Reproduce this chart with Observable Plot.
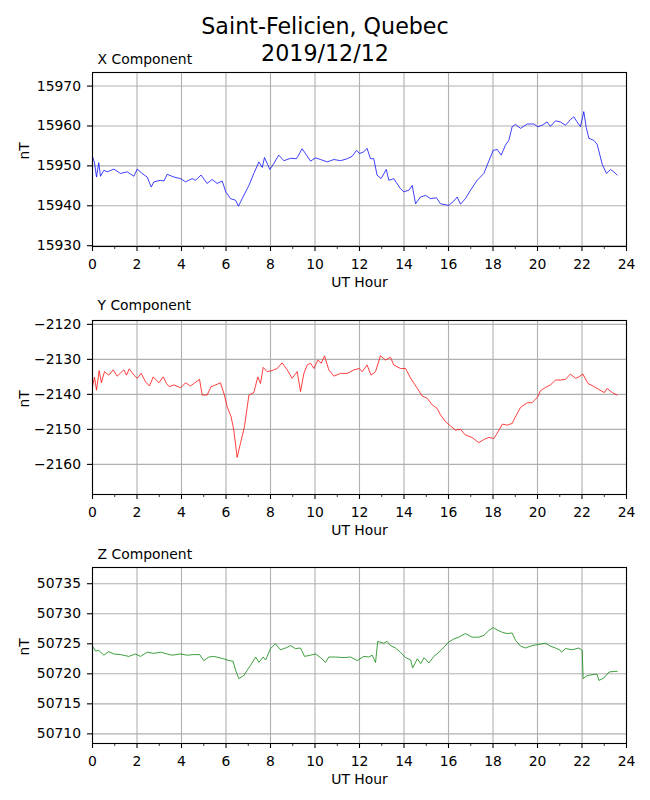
<!DOCTYPE html>
<html><head><meta charset="utf-8">
<script src="https://cdn.jsdelivr.net/npm/d3@7"></script>
<script src="https://cdn.jsdelivr.net/npm/@observablehq/plot@0.6"></script>
<style>
body{margin:0;background:#fff;}
#root{position:relative;width:650px;height:800px;font-family:"DejaVu Sans",sans-serif;color:#000;}
.t{position:absolute;left:0;width:650px;text-align:center;font-size:22.2px;line-height:26px;}
.p{position:absolute;left:0;}
</style></head><body><div id="root">
<div class="t" style="top:13px">Saint-Felicien, Quebec</div>
<div class="t" style="top:40px">2019/12/12</div>
</div>
<script>
// [UT hour, nT] readings
const xReadings = [[0,15952.3],[0.09,15950.8],[0.18,15947.2],[0.28,15950.8],[0.36,15947.4],[0.51,15948.9],[0.66,15948.5],[0.96,15949.2],[1.26,15948.1],[1.56,15948.5],[1.86,15947.4],[2.01,15949.2],[2.23,15948.1],[2.46,15947.2],[2.64,15944.7],[2.76,15946.0],[3.06,15946.4],[3.21,15946.2],[3.36,15947.9],[3.66,15947.2],[3.96,15946.8],[4.18,15946.0],[4.48,15946.8],[4.63,15946.4],[4.88,15947.7],[5.15,15945.6],[5.38,15946.6],[5.60,15945.6],[5.83,15946.2],[5.99,15943.5],[6.20,15941.8],[6.43,15941.4],[6.56,15939.9],[6.80,15942.6],[7.03,15945.1],[7.25,15948.1],[7.48,15951.0],[7.63,15949.6],[7.73,15952.1],[7.97,15949.1],[8.15,15950.6],[8.37,15952.7],[8.60,15951.3],[8.90,15951.9],[9.17,15951.8],[9.42,15954.3],[9.57,15953.1],[9.80,15951.2],[10.02,15952.0],[10.25,15951.6],[10.55,15951.0],[10.85,15951.6],[11.15,15951.3],[11.45,15951.8],[11.67,15952.4],[11.87,15953.9],[12.0,15953.1],[12.19,15953.5],[12.34,15954.4],[12.49,15951.8],[12.64,15951.8],[12.79,15947.7],[12.97,15946.8],[13.20,15949.1],[13.32,15946.4],[13.54,15946.8],[13.84,15944.3],[13.99,15943.5],[14.22,15943.9],[14.37,15945.1],[14.52,15940.5],[14.74,15942.2],[14.97,15942.6],[15.19,15941.8],[15.46,15942.0],[15.64,15940.5],[16.01,15940.1],[16.24,15941.2],[16.39,15942.2],[16.54,15940.4],[16.76,15941.8],[16.99,15943.9],[17.29,15946.4],[17.59,15948.1],[17.74,15950.2],[18.01,15953.9],[18.19,15954.1],[18.37,15952.7],[18.56,15955.2],[18.71,15956.4],[18.86,15959.8],[19.01,15960.4],[19.24,15959.4],[19.54,15960.5],[19.84,15960.5],[20.01,15959.8],[20.21,15960.2],[20.43,15961.0],[20.58,15959.9],[20.81,15961.3],[21.03,15961.0],[21.26,15960.2],[21.48,15961.6],[21.63,15962.3],[21.78,15961.0],[21.93,15959.8],[22.08,15963.6],[22.19,15959.6],[22.31,15956.9],[22.53,15956.4],[22.68,15955.4],[22.91,15950.4],[23.10,15948.1],[23.28,15949.1],[23.43,15948.5],[23.58,15947.7]];
const yReadings = [[0,-2137.8],[0.09,-2135.1],[0.18,-2138.8],[0.30,-2133.2],[0.40,-2136.7],[0.54,-2133.5],[0.73,-2134.5],[0.93,-2133.0],[1.11,-2134.8],[1.41,-2133.0],[1.53,-2134.5],[1.65,-2132.7],[1.86,-2134.5],[2.01,-2135.4],[2.19,-2134.0],[2.38,-2136.4],[2.56,-2137.6],[2.73,-2135.0],[2.98,-2136.7],[3.18,-2135.0],[3.33,-2136.9],[3.45,-2137.8],[3.66,-2137.3],[3.96,-2138.1],[4.18,-2136.7],[4.40,-2137.6],[4.60,-2136.7],[4.81,-2135.7],[4.93,-2140.2],[5.15,-2140.2],[5.33,-2137.8],[5.53,-2137.3],[5.75,-2136.7],[5.93,-2140.2],[6.05,-2143.5],[6.23,-2146.4],[6.35,-2150.2],[6.50,-2158.0],[6.65,-2154.0],[6.83,-2149.2],[7.03,-2140.2],[7.25,-2139.5],[7.43,-2135.0],[7.55,-2136.9],[7.67,-2132.3],[7.85,-2133.5],[8.07,-2133.2],[8.30,-2132.6],[8.52,-2131.0],[8.75,-2133.0],[8.97,-2135.4],[9.20,-2133.5],[9.35,-2139.2],[9.50,-2134.0],[9.65,-2131.6],[9.80,-2131.1],[9.95,-2132.6],[10.13,-2130.2],[10.28,-2131.1],[10.43,-2129.0],[10.62,-2133.0],[10.85,-2134.8],[11.15,-2134.0],[11.45,-2134.0],[11.75,-2133.0],[11.99,-2132.6],[12.12,-2133.5],[12.34,-2131.6],[12.52,-2134.5],[12.72,-2133.5],[12.94,-2129.0],[13.17,-2130.2],[13.39,-2129.4],[13.54,-2131.6],[13.84,-2132.6],[14.07,-2132.6],[14.30,-2135.4],[14.60,-2138.3],[14.82,-2140.5],[15.04,-2141.1],[15.27,-2143.0],[15.49,-2144.0],[15.64,-2145.9],[15.87,-2147.8],[16.09,-2149.0],[16.31,-2150.2],[16.54,-2150.0],[16.76,-2151.6],[17.06,-2152.3],[17.36,-2153.8],[17.59,-2152.9],[17.81,-2152.3],[18.04,-2152.6],[18.19,-2151.1],[18.42,-2148.5],[18.64,-2148.8],[18.86,-2148.3],[19.01,-2146.4],[19.24,-2143.7],[19.54,-2142.4],[19.76,-2142.4],[20.01,-2140.7],[20.13,-2139.0],[20.36,-2138.0],[20.58,-2137.3],[20.81,-2135.9],[21.03,-2135.9],[21.26,-2135.7],[21.48,-2134.2],[21.71,-2135.4],[21.86,-2135.0],[22.04,-2134.2],[22.27,-2136.9],[22.49,-2137.6],[22.68,-2138.3],[23.0,-2139.5],[23.13,-2138.3],[23.36,-2139.5],[23.58,-2140.2]];
const zReadings = [[0,50724.6],[0.13,50723.8],[0.28,50723.9],[0.51,50723.1],[0.73,50723.7],[0.96,50723.3],[1.26,50723.2],[1.63,50722.9],[1.93,50723.3],[2.16,50722.9],[2.46,50723.6],[2.76,50723.4],[3.06,50723.6],[3.36,50723.3],[3.58,50723.1],[3.96,50723.3],[4.25,50723.1],[4.55,50723.2],[4.82,50723.2],[5.0,50722.2],[5.23,50722.8],[5.45,50722.9],[5.68,50722.7],[5.90,50722.5],[6.13,50722.2],[6.32,50722.1],[6.43,50720.6],[6.58,50719.2],[6.80,50719.7],[6.95,50720.6],[7.10,50721.4],[7.33,50722.8],[7.48,50721.9],[7.67,50722.8],[7.78,50722.3],[8.0,50724.2],[8.22,50725.0],[8.45,50724.0],[8.75,50724.4],[8.90,50724.7],[9.12,50724.2],[9.35,50724.3],[9.53,50722.9],[9.80,50723.1],[10.02,50723.3],[10.25,50722.7],[10.47,50721.9],[10.62,50722.8],[10.92,50722.8],[11.30,50722.7],[11.60,50722.8],[11.90,50722.2],[12.19,50722.9],[12.42,50722.8],[12.57,50723.1],[12.72,50721.9],[12.82,50725.4],[13.09,50725.1],[13.24,50725.4],[13.39,50724.7],[13.62,50724.3],[13.84,50723.6],[14.07,50722.7],[14.30,50722.3],[14.39,50721.0],[14.60,50722.5],[14.75,50721.7],[14.90,50722.7],[15.12,50721.8],[15.34,50722.9],[15.57,50723.6],[15.79,50724.4],[16.01,50725.3],[16.24,50725.8],[16.46,50726.1],[16.76,50726.7],[17.06,50726.1],[17.36,50726.1],[17.59,50726.4],[17.81,50727.2],[18.01,50727.7],[18.19,50727.3],[18.42,50726.9],[18.64,50726.7],[18.86,50726.8],[19.01,50725.6],[19.24,50724.6],[19.46,50724.3],[19.76,50724.7],[20.06,50724.9],[20.36,50725.1],[20.58,50724.6],[20.81,50724.3],[21.03,50723.9],[21.08,50723.6],[21.26,50724.2],[21.56,50724.0],[21.86,50724.3],[22.01,50723.9],[22.05,50719.2],[22.23,50719.7],[22.53,50719.9],[22.68,50719.9],[22.76,50718.9],[22.98,50719.3],[23.21,50720.3],[23.43,50720.4],[23.58,50720.4]];

const hourTicks = [0,2,4,6,8,10,12,14,16,18,20,22,24];
const minorHourTicks = [1,3,5,7,9,11,13,15,17,19,21,23];
const xTicks = [15930,15940,15950,15960,15970];
const yTicks = [-2160,-2150,-2140,-2130,-2120];
const zTicks = [50710,50715,50720,50725,50730,50735];
const panelTitles = ["X Component","Y Component","Z Component"];
const xLabel = "UT Hour", yLabel = "nT";

const fmt = d => String(d).replace("-", "\u2212");
const FS = 13.9;
function panel(readings, color, domain, ticks, title, top, marginTop, frameH, titleDy) {
  const data = readings.map(([h, v]) => ({h, v}));
  const chart = Plot.plot({
    width: 650, height: marginTop + frameH + 50,
    marginLeft: 92, marginRight: 24, marginTop, marginBottom: 50,
    style: {fontFamily: "DejaVu Sans", fontSize: FS + "px", background: "transparent", overflow: "visible"},
    x: {domain: [0, 24]},
    y: {domain},
    marks: [
      Plot.gridX(hourTicks, {stroke: "#b0b0b0", strokeOpacity: 1, strokeWidth: 1.1}),
      Plot.gridY(ticks, {stroke: "#b0b0b0", strokeOpacity: 1, strokeWidth: 1.1}),
      Plot.line(data, {x: "h", y: "v", stroke: color, strokeWidth: 0.75}),
      Plot.frame({stroke: "black", strokeWidth: 1.1}),
      Plot.axisX(hourTicks, {tickSize: 5, tickPadding: 7.5, tickFormat: fmt, label: null, fontSize: FS, strokeWidth: 1.1}),
      Plot.axisX(minorHourTicks, {tickSize: 3, tickFormat: () => "", label: null, strokeWidth: 0.8}),
      Plot.axisY(ticks, {tickSize: 5, tickPadding: 6.5, tickFormat: fmt, label: null, fontSize: FS, strokeWidth: 1.1}),
      Plot.text([title], {text: d => d, frameAnchor: "top-left", lineAnchor: "middle", dx: 5, dy: titleDy, textAnchor: "start", fontSize: FS}),
      Plot.text([xLabel], {text: d => d, frameAnchor: "bottom", lineAnchor: "middle", dy: 36.5, fontSize: FS}),
      Plot.text([yLabel], {text: d => d, frameAnchor: "left", lineAnchor: "middle", dx: -68, rotate: -90, fontSize: FS})
    ]
  });
  chart.classList.add("p");
  chart.style.top = top + "px";
  chart.style.position = "absolute";
  chart.style.left = "0px";
  document.getElementById("root").appendChild(chart);
}
panel(xReadings, "#0000ff", [15929.8, 15973.4], xTicks, panelTitles[0], 40, 32, 174, -12.8);
panel(yReadings, "#ff0000", [-2168.6, -2118.9], yTicks, panelTitles[1], 296, 24, 174, -14.5);
panel(zReadings, "#008000", [50708.4, 50737.7], zTicks, panelTitles[2], 544, 23, 176, -13);
</script></body></html>
